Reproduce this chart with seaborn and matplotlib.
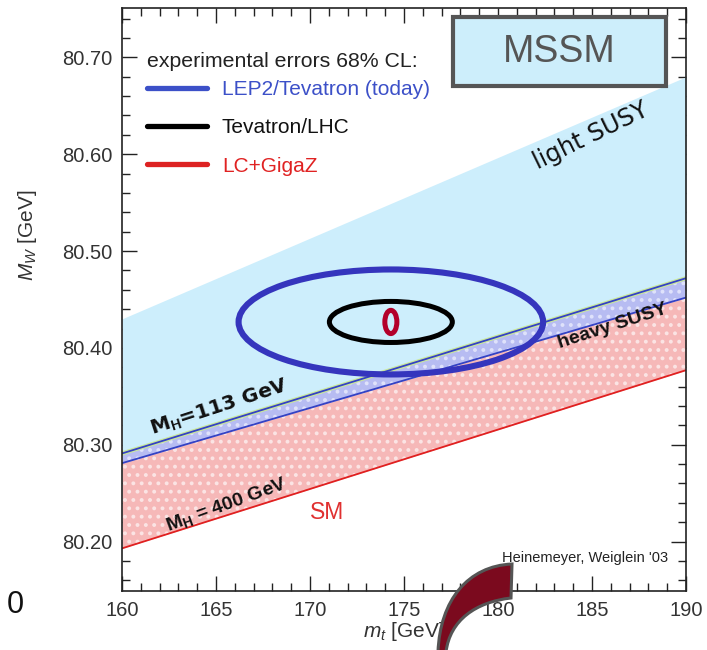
import numpy as np
import pandas as pd
import matplotlib
matplotlib.use("Agg")
import matplotlib.pyplot as plt
import seaborn as sns
from matplotlib.patches import Ellipse, Rectangle, PathPatch
from matplotlib.path import Path
from matplotlib.lines import Line2D
from matplotlib.ticker import MultipleLocator, FormatStrFormatter

# ---------------- data ----------------
mt_edges = [160.0, 190.0]                  # top-quark mass range [GeV]
light_susy_upper = [80.430, 80.680]        # upper edge of MSSM (light SUSY) region
mh113_upper = [80.291, 80.472]             # SM band, M_H = 113 GeV (upper edge)
mh113_lower = [80.281, 80.452]             # SM band, M_H = 113 GeV (lower edge)
mh400_line = [80.193, 80.377]              # SM, M_H = 400 GeV

ell_names = ["LEP2/Tevatron (today)", "Tevatron/LHC", "LC+GigaZ"]
ell_center_mt = [174.3, 174.3, 174.3]
ell_center_mw = [80.4268, 80.4268, 80.4268]
ell_half_mt = [8.10, 3.27, 0.32]           # half-axis in m_t [GeV]
ell_half_mw = [0.0542, 0.0212, 0.0120]     # half-axis in M_W [GeV]
ell_colors = ["#3535bd", "#000000", "#b3002a"]
legend_line_colors = ["#3c50c8", "#000000", "#dd2222"]
ell_text_colors = ["#3c50c8", "#111111", "#e02222"]

x_ticks = [160, 165, 170, 175, 180, 185, 190]
y_ticks = [80.20, 80.30, 80.40, 80.50, 80.60, 80.70]

# ---------------- style ----------------
sns.set_theme(style="ticks")
plt.rcParams["font.family"] = ["Liberation Sans", "DejaVu Sans"]
plt.rcParams["mathtext.fontset"] = "custom"
plt.rcParams["mathtext.rm"] = "Liberation Sans"
plt.rcParams["mathtext.it"] = "Liberation Sans:italic"
plt.rcParams["mathtext.bf"] = "Liberation Sans:bold"
plt.rcParams["hatch.linewidth"] = 1.6

fig = plt.figure(figsize=(7.07, 6.50), dpi=100)
ax = fig.add_axes([0.1726, 0.0908, 0.7977, 0.8969])

# ---------------- regions ----------------
ax.fill_between(mt_edges, mh113_upper, light_susy_upper, color="#cdeefc", lw=0, zorder=1)
ax.fill_between(mt_edges, mh400_line, mh113_lower, color="#f6b8b8", lw=0, zorder=1)
ax.fill_between(mt_edges, mh400_line, mh113_lower, facecolor="none", edgecolor="#fbe4e4",
                hatch="..", lw=0, zorder=1.1)
ax.fill_between(mt_edges, mh113_lower, mh113_upper, color="#b7bcf2", lw=0, zorder=1.2)
ax.fill_between(mt_edges, mh113_lower, mh113_upper, facecolor="none", edgecolor="#dfe2fb",
                hatch="..", lw=0, zorder=1.3)

lines_df = pd.DataFrame({
    "mt": mt_edges * 4,
    "MW": mh113_upper + mh113_lower + mh400_line + mh113_upper,
    "curve": ["up"] * 2 + ["low"] * 2 + ["400"] * 2 + ["edge"] * 2,
})
sns.lineplot(data=lines_df[lines_df.curve == "edge"], x="mt", y="MW", color="#c9e79a",
             lw=3.0, ax=ax, zorder=1.4, legend=False)
sns.lineplot(data=lines_df[lines_df.curve.isin(["up", "low"])], x="mt", y="MW", units="curve",
             estimator=None, color="#3442c4", lw=1.3, ax=ax, zorder=2, legend=False)
sns.lineplot(data=lines_df[lines_df.curve == "400"], x="mt", y="MW", color="#e02020",
             lw=1.3, ax=ax, zorder=2, legend=False)

# ---------------- ellipses ----------------
ell_lw = [4.4, 3.6, 3.6]
for cx, cy, hx, hy, c, lw in zip(ell_center_mt, ell_center_mw, ell_half_mt, ell_half_mw,
                                 ell_colors, ell_lw):
    ax.add_patch(Ellipse((cx, cy), 2 * hx, 2 * hy, facecolor="none", edgecolor=c, lw=lw, zorder=5))

# ---------------- axes ----------------
ax.set_xlim(160, 190)
ax.set_ylim(80.149, 80.751)
ax.set_xticks(x_ticks)
ax.set_yticks(y_ticks)
ax.yaxis.set_major_formatter(FormatStrFormatter("%.2f"))
ax.xaxis.set_minor_locator(MultipleLocator(1))
ax.yaxis.set_minor_locator(MultipleLocator(0.02))
ax.tick_params(which="both", direction="in", top=True, right=True, colors="#222222",
               labelcolor="#333333", labelsize=14.5, width=1.0)
ax.tick_params(which="major", length=11, pad=7)
ax.tick_params(which="minor", length=5.5)
for s in ax.spines.values():
    s.set_linewidth(1.2)
    s.set_color("#222222")

ax.set_xlabel("$m_t$ [GeV]", fontsize=15, color="#333333")
ax.set_ylabel("$M_W$ [GeV]", fontsize=15, color="#333333")
ax.xaxis.set_label_coords(0.5, -0.05)
ax.yaxis.set_label_coords(-0.148, 0.61)

# ---------------- legend ----------------
ax.text(0.044, 0.908, "experimental errors 68% CL:", transform=ax.transAxes,
        ha="left", va="center", fontsize=15.3, color="#222222", zorder=6)
handles = [Line2D([], [], color=c, lw=3.8) for c in legend_line_colors]
leg = ax.legend(handles, ell_names, loc="upper left", bbox_to_anchor=(0.044, 0.876),
                frameon=False, fontsize=15, handlelength=2.9, handletextpad=0.7,
                labelspacing=0.92, borderaxespad=0, borderpad=0)
for t, c in zip(leg.get_texts(), ell_text_colors):
    t.set_color(c)
leg.set_zorder(6)

# ---------------- annotations ----------------
ax.add_patch(Rectangle((0.587, 0.866), 0.3775, 0.1186, transform=ax.transAxes,
                       facecolor="#cdeefb", edgecolor="#555555", lw=3, zorder=7))
ax.text(0.776, 0.925, "MSSM", transform=ax.transAxes, ha="center", va="center",
        fontsize=27, color="#555555", zorder=8)
ax.text(184.96, 80.619, "light SUSY", rotation=26, ha="center", va="center",
        fontsize=17.5, family=["DejaVu Sans"], color="#111111", zorder=4)
ax.text(186.1, 80.422, "heavy SUSY", rotation=18, ha="center", va="center",
        fontsize=14, fontweight="bold", color="#111111", zorder=4)
ax.text(165.2, 80.338, r"M$_\mathbf{H}$=113 GeV", rotation=18, ha="center", va="center",
        fontsize=14.5, fontweight="bold", family=["DejaVu Sans"], color="#111111", zorder=4)
ax.text(165.55, 80.238, r"M$_\mathbf{H}$ = 400 GeV", rotation=20, ha="center", va="center",
        fontsize=14, fontweight="bold", color="#111111", zorder=4)
ax.text(170.9, 80.23, "SM", ha="center", va="center", fontsize=16.5, color="#e03030", zorder=4)
ax.text(184.64, 80.183, "Heinemeyer, Weiglein '03", ha="center", va="center",
        fontsize=10.5, color="#222222", zorder=4)

# ---------------- slide artefacts ----------------
fig.text(15 / 707, 1 - 605 / 650, "0", ha="center", va="center", fontsize=22, color="#111111")

def fpt(x, y):
    return (x / 707.0, 1 - y / 650.0)

verts = [fpt(438, 652), fpt(440, 600), fpt(468, 566), fpt(512, 564),
         fpt(511, 598),
         fpt(476, 602), fpt(450, 620), fpt(446, 652),
         fpt(438, 652)]
codes = [Path.MOVETO, Path.CURVE4, Path.CURVE4, Path.CURVE4,
         Path.LINETO,
         Path.CURVE4, Path.CURVE4, Path.CURVE4,
         Path.CLOSEPOLY]
fig.add_artist(PathPatch(Path(verts, codes), transform=fig.transFigure,
                         facecolor="#7b0a1e", edgecolor="#555555", lw=2.2, zorder=10))

fig.savefig("out.png", dpi=100)
